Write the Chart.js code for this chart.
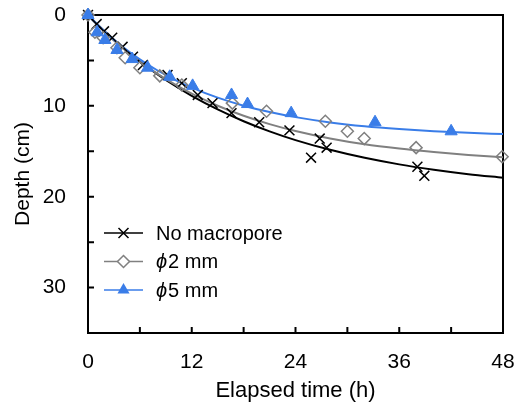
<!DOCTYPE html>
<html>
<head>
<meta charset="utf-8">
<script src="https://cdn.jsdelivr.net/npm/chart.js@4/dist/chart.umd.min.js"></script>
<style>
  html, body { margin: 0; padding: 0; background: #fff; }
  #wrap { width: 521px; height: 410px; }
</style>
</head>
<body>
<div id="wrap"><canvas id="c" width="521" height="410"></canvas></div>
<script>
// ---- data ----
const seriesNames = ['No macropore', '\u03D52 mm', '\u03D55 mm'];

const timeNoMacro  = [0, 1.0, 1.85, 2.8, 4.0, 5.2, 6.35, 9.2, 10.85, 12.7, 14.4, 16.6, 19.8, 23.3, 25.8, 26.8, 27.6, 38.1, 38.9];
const depthNoMacro = [0, 1.0, 1.8, 2.5, 3.5, 4.6, 5.5, 6.6, 7.5, 8.8, 9.7, 10.8, 11.8, 12.7, 15.7, 13.6, 14.6, 16.7, 17.7];

const time2mm  = [0, 0.8, 1.75, 3.35, 4.3, 6.0, 8.3, 10.85, 16.7, 20.65, 27.45, 30.0, 31.95, 37.95, 47.9];
const depth2mm = [0, 1.9, 2.5, 3.6, 4.7, 5.8, 6.7, 7.7, 9.7, 10.6, 11.7, 12.8, 13.6, 14.6, 15.6];

const time5mm  = [0, 1.05, 1.95, 3.35, 5.1, 6.9, 9.45, 12.1, 16.6, 18.45, 23.5, 33.2, 42.0];
const depth5mm = [0, 1.9, 2.75, 3.85, 4.85, 5.8, 6.8, 7.8, 8.8, 9.8, 10.8, 11.8, 12.8];

// fitted curves
const curveTime     = [0, 1, 2, 3, 4, 6, 8, 10, 12, 15, 18, 21, 24, 28, 32, 36, 40, 44, 48];
const curveNoMacro  = [0, 0.96, 1.87, 2.74, 3.57, 5.11, 6.50, 7.75, 8.89, 10.39, 11.69, 12.81, 13.77, 14.84, 15.72, 16.44, 17.03, 17.52, 17.91];
const curve2mm      = [0, 0.99, 1.92, 2.80, 3.62, 5.12, 6.45, 7.62, 8.66, 9.99, 11.09, 12.01, 12.77, 13.59, 14.23, 14.70, 15.08, 15.40, 15.66];
const curve5mm      = [0, 0.97, 1.88, 2.71, 3.49, 4.88, 6.08, 7.11, 7.99, 9.10, 9.98, 10.68, 11.24, 11.82, 12.25, 12.56, 12.80, 12.97, 13.10];

const xTickLabels = [0, 12, 24, 36, 48];
const yTickLabels = [0, 10, 20, 30];

// ---- styles ----
const BLUE = 'rgb(58,125,232)';
const GRAY = 'rgb(128,128,128)';
const FONT = '"Liberation Sans", Arial, sans-serif';

const pts = (xs, ys) => xs.map((x, i) => ({ x: x, y: ys[i] }));

const legendItems = [
  { text: seriesNames[0], color: '#000', style: 'cross' },
  { text: seriesNames[1], color: GRAY, style: 'diamond' },
  { text: seriesNames[2], color: BLUE, style: 'triangle' }
];

function drawMarker(ctx, style, color, x, y) {
  ctx.save();
  ctx.strokeStyle = color;
  ctx.fillStyle = color;
  ctx.beginPath();
  if (style === 'cross') {
    const r = 5;
    ctx.lineWidth = 1.5;
    ctx.moveTo(x - r, y - r); ctx.lineTo(x + r, y + r);
    ctx.moveTo(x - r, y + r); ctx.lineTo(x + r, y - r);
    ctx.stroke();
  } else if (style === 'diamond') {
    const r = 6;
    ctx.lineWidth = 1.5;
    ctx.moveTo(x, y - r); ctx.lineTo(x + r, y); ctx.lineTo(x, y + r); ctx.lineTo(x - r, y); ctx.closePath();
    ctx.fillStyle = '#fff';
    ctx.fill();
    ctx.stroke();
  } else {
    const r = 7;
    ctx.moveTo(x, y - r);
    ctx.lineTo(x + r * 0.866, y + r * 0.5);
    ctx.lineTo(x - r * 0.866, y + r * 0.5);
    ctx.closePath();
    ctx.fill();
  }
  ctx.restore();
}

const decor = {
  id: 'decor',
  beforeDatasetsDraw(chart) {
    const { ctx, chartArea: a, scales: { x, y } } = chart;
    ctx.save();
    ctx.strokeStyle = '#000';
    ctx.lineWidth = 2;
    ctx.strokeRect(a.left, a.top, a.right - a.left, a.bottom - a.top);
    ctx.beginPath();
    x.ticks.forEach(t => {
      const px = x.getPixelForValue(t.value);
      ctx.moveTo(px, a.bottom); ctx.lineTo(px, a.bottom - 6);
    });
    y.ticks.forEach(t => {
      const py = y.getPixelForValue(t.value);
      ctx.moveTo(a.left, py); ctx.lineTo(a.left + 6, py);
    });
    ctx.stroke();
    ctx.restore();
  },
  afterDraw(chart) {
    const { ctx, chartArea: a } = chart;
    ctx.save();
    ctx.textBaseline = 'middle';
    ctx.textAlign = 'left';
    legendItems.forEach((it, i) => {
      const yy = a.top + 218 + i * 28.5;
      const x0 = a.left + 16, x1 = a.left + 55;
      ctx.strokeStyle = it.color;
      ctx.lineWidth = 1.5;
      ctx.beginPath(); ctx.moveTo(x0, yy); ctx.lineTo(x1, yy); ctx.stroke();
      drawMarker(ctx, it.style, it.color, (x0 + x1) / 2, yy);
      ctx.fillStyle = '#000';
      let tx = a.left + 68;
      let txt = it.text;
      if (txt.charAt(0) === '\u03D5') {
        ctx.font = 'italic 20px ' + FONT;
        ctx.fillText('\u03D5', tx, yy + 1);
        tx += ctx.measureText('\u03D5').width + 1;
        txt = txt.slice(1);
      }
      ctx.font = '20px ' + FONT;
      ctx.fillText(txt, tx, yy + 1);
    });
    ctx.restore();
  }
};

const zeroPad = s => { s.paddingTop = 0; s.paddingBottom = 0; s.paddingLeft = 0; s.paddingRight = 0; };

new Chart(document.getElementById('c'), {
  type: 'scatter',
  data: {
    datasets: [
      { label: seriesNames[2], data: pts(time5mm, depth5mm), pointStyle: 'triangle', pointRadius: 7,
        backgroundColor: BLUE, borderColor: BLUE, borderWidth: 1, clip: false, order: 1 },
      { label: seriesNames[1], data: pts(time2mm, depth2mm), pointStyle: 'rectRot', pointRadius: 6,
        backgroundColor: 'rgba(0,0,0,0)', borderColor: GRAY, borderWidth: 1.5, clip: false, order: 2 },
      { label: seriesNames[0], data: pts(timeNoMacro, depthNoMacro), pointStyle: 'crossRot', pointRadius: 7,
        borderColor: '#000', borderWidth: 1.5, clip: false, order: 3 },
      { label: 'fit5', data: pts(curveTime, curve5mm), showLine: true, pointRadius: 0, borderColor: BLUE,
        borderWidth: 2, cubicInterpolationMode: 'monotone', order: 4 },
      { label: 'fit2', data: pts(curveTime, curve2mm), showLine: true, pointRadius: 0, borderColor: GRAY,
        borderWidth: 2, cubicInterpolationMode: 'monotone', order: 5 },
      { label: 'fit0', data: pts(curveTime, curveNoMacro), showLine: true, pointRadius: 0, borderColor: '#000',
        borderWidth: 2, cubicInterpolationMode: 'monotone', order: 6 }
    ]
  },
  options: {
    responsive: false,
    animation: false,
    devicePixelRatio: 1,
    layout: { padding: { left: 0, top: 15, right: 18, bottom: 0 } },
    plugins: { legend: { display: false }, tooltip: { enabled: false } },
    scales: {
      x: {
        type: 'linear', min: 0, max: 48,
        grid: { display: false, drawTicks: false },
        border: { display: false },
        ticks: {
          stepSize: 6, autoSkip: false, maxRotation: 0, padding: 17,
          color: '#000', font: { family: FONT, size: 21 },
          callback: v => xTickLabels.includes(v) ? String(v) : ''
        },
        title: { display: true, text: 'Elapsed time (h)', color: '#000',
          font: { family: FONT, size: 22 }, padding: { top: 0, bottom: 6 } },
        afterFit: s => { s.height = 77; zeroPad(s); }
      },
      y: {
        type: 'linear', min: 0, max: 35, reverse: true,
        grid: { display: false, drawTicks: false },
        border: { display: false },
        ticks: {
          stepSize: 5, autoSkip: false, padding: 22,
          color: '#000', font: { family: FONT, size: 21 },
          callback: v => yTickLabels.includes(v) ? String(v) : ''
        },
        title: { display: true, text: 'Depth (cm)', color: '#000',
          font: { family: FONT, size: 21 }, padding: { top: 11, bottom: 0 } },
        afterFit: s => { s.width = 88; zeroPad(s); }
      }
    }
  },
  plugins: [decor]
});
</script>
</body>
</html>
